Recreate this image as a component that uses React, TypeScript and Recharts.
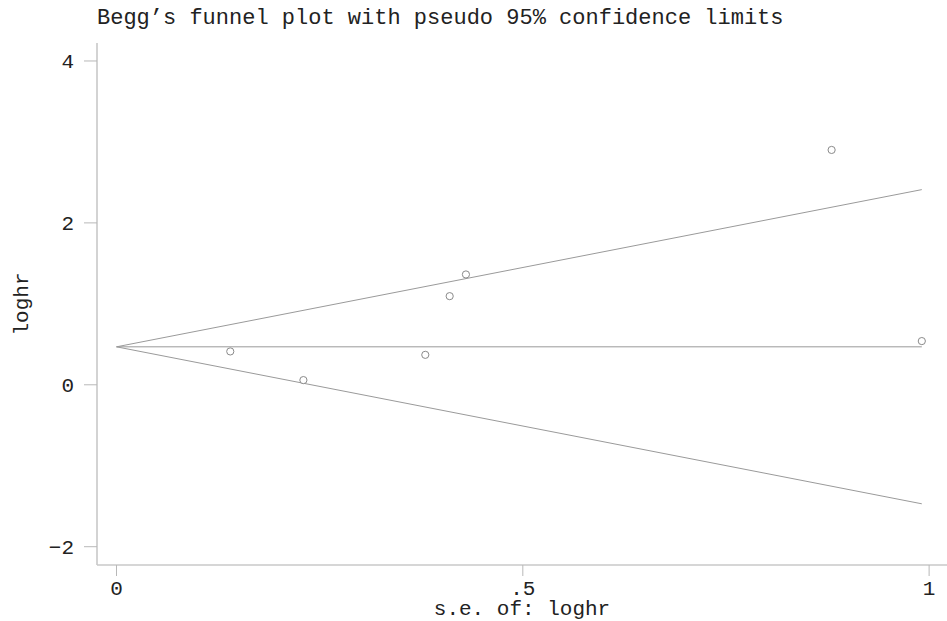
import React from 'react';
import { ScatterChart, Scatter, XAxis, YAxis, Label } from 'recharts';

// study points: standard error vs log hazard ratio
const seValues = [0.140, 0.230, 0.380, 0.410, 0.430, 0.880, 0.991];
const logHrValues = [0.412, 0.058, 0.370, 1.095, 1.363, 2.901, 0.540];

// funnel (pseudo 95% limits) endpoints
const funnelSe = [0, 0.991];
const centerLine = [0.469, 0.469];
const upperLimit = [0.469, 2.411];
const lowerLimit = [0.469, -1.470];

const xTicks = [0, 0.5, 1];
const xTickLabels = ['0', '.5', '1'];
const yTicks = [-2, 0, 2, 4];
const yTickLabels = ['\u22122', '0', '2', '4'];

const points = seValues.map((se, i) => ({ x: se, y: logHrValues[i] }));
const mk = (ys: number[]) => funnelSe.map((se, i) => ({ x: se, y: ys[i] }));

const FONT = '"Liberation Mono", "DejaVu Sans Mono", monospace';
const AXIS = '#c8c8c8';
const LINE = '#9a9a9a';

const Empty = () => <g />;

const Circle = (props: any) => {
  const { cx, cy } = props;
  if (cx == null || cy == null) return <g />;
  return <circle cx={cx} cy={cy} r={3.6} fill="#ffffff" stroke="#8a8a8a" strokeWidth={1} />;
};

export default function App() {
  return (
    <div style={{ position: 'absolute', left: 0, top: 0, width: 947, height: 621, background: '#fff' }}>
      <ScatterChart width={947} height={621} margin={{ top: 43, right: 0, bottom: 0, left: 0 }}>
        <XAxis
          type="number"
          dataKey="x"
          domain={[-0.024, 1.022]}
          allowDataOverflow
          ticks={xTicks}
          tickFormatter={(v: number) => xTickLabels[xTicks.indexOf(v)] ?? String(v)}
          height={56}
          tickSize={11}
          tickMargin={4}
          axisLine={{ stroke: AXIS, strokeWidth: 1.6 }}
          tickLine={{ stroke: '#b8b8b8', strokeWidth: 1 }}
          tick={{ fill: '#222', fontFamily: FONT, fontSize: 21 }}
        >
          <Label
            value="s.e. of: loghr"
            position="insideBottom"
            offset={6}
            style={{ fill: '#222', fontFamily: FONT, fontSize: 21 }}
          />
        </XAxis>
        <YAxis
          type="number"
          dataKey="y"
          domain={[-2.226, 4.222]}
          allowDataOverflow
          ticks={yTicks}
          tickFormatter={(v: number) => yTickLabels[yTicks.indexOf(v)] ?? String(v)}
          width={97}
          tickSize={13}
          tickMargin={10}
          axisLine={{ stroke: AXIS, strokeWidth: 1.6 }}
          tickLine={{ stroke: '#b8b8b8', strokeWidth: 1 }}
          tick={{ fill: '#222', fontFamily: FONT, fontSize: 21 }}
        >
          <Label
            content={(p: any) => {
              const vb = p.viewBox || { x: 0, y: 43, width: 97, height: 522 };
              const cx = 22;
              const cy = vb.y + vb.height / 2;
              return (
                <text
                  x={cx}
                  y={cy}
                  transform={`rotate(-90 ${cx} ${cy})`}
                  textAnchor="middle"
                  dominantBaseline="central"
                  fill="#222"
                  fontFamily={FONT}
                  fontSize={21}
                >
                  loghr
                </text>
              );
            }}
          />
        </YAxis>
        <Scatter data={mk(centerLine)} line={{ stroke: LINE, strokeWidth: 1 }} lineType="joint" shape={Empty} isAnimationActive={false} />
        <Scatter data={mk(upperLimit)} line={{ stroke: LINE, strokeWidth: 1 }} lineType="joint" shape={Empty} isAnimationActive={false} />
        <Scatter data={mk(lowerLimit)} line={{ stroke: LINE, strokeWidth: 1 }} lineType="joint" shape={Empty} isAnimationActive={false} />
        <Scatter data={points} shape={Circle} isAnimationActive={false} />
      </ScatterChart>
      <svg width={947} height={40} style={{ position: 'absolute', left: 0, top: 0 }}>
        <text x={97} y={24} fill="#222" fontFamily={FONT} fontSize={22}>
          Begg’s funnel plot with pseudo 95% confidence limits
        </text>
      </svg>
    </div>
  );
}
